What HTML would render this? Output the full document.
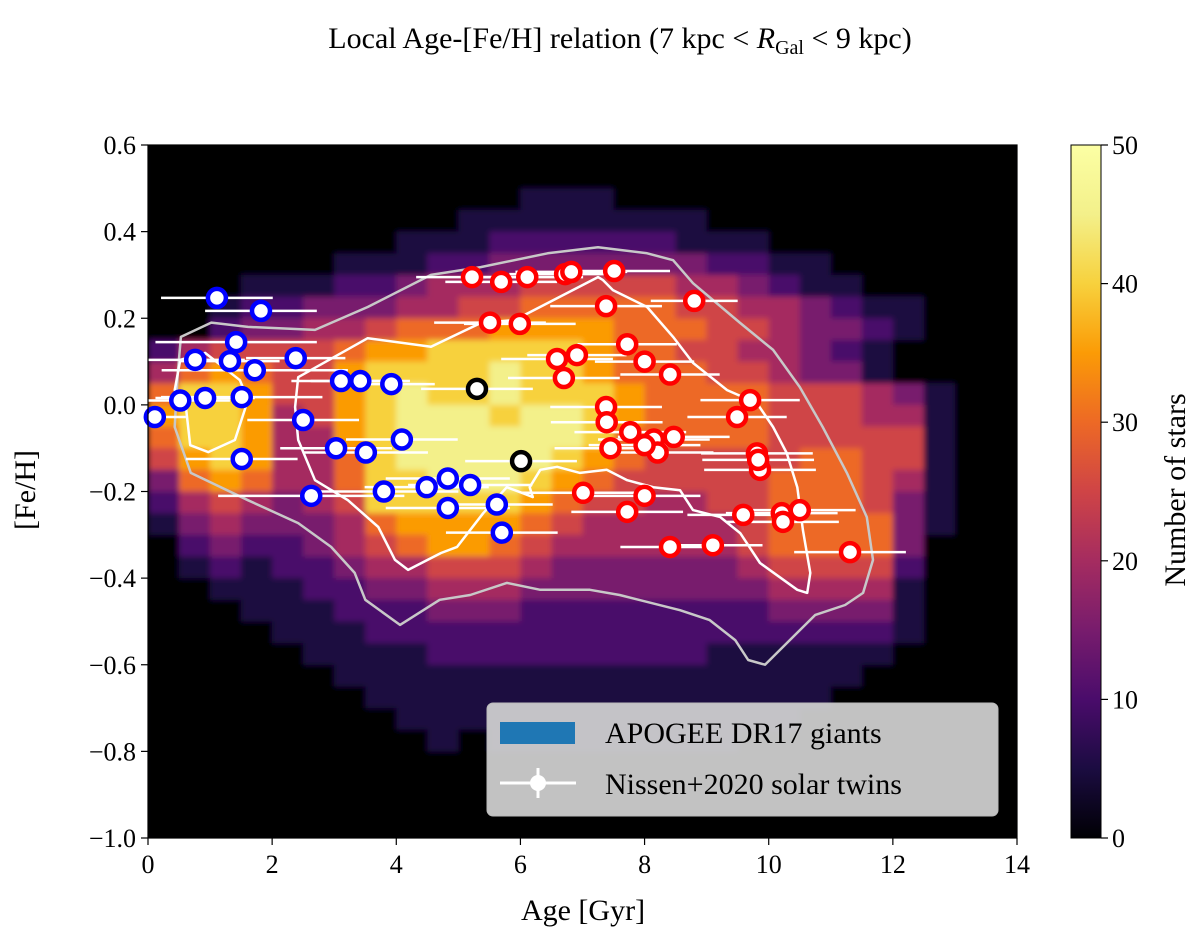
<!DOCTYPE html>
<html><head><meta charset="utf-8"><style>
html,body{margin:0;padding:0;background:#fff;}
svg{display:block;font-family:"Liberation Serif","DejaVu Serif",serif;}
</style></head><body>
<svg id="chart" width="1200" height="940" viewBox="0 0 1200 940">
<defs>
<clipPath id="plotclip"><rect x="148" y="145" width="869" height="693"/></clipPath>
<filter id="soft" x="0" y="0" width="1" height="1"><feGaussianBlur stdDeviation="3" edgeMode="duplicate"/></filter>
<linearGradient id="cbgrad" x1="0" y1="1" x2="0" y2="0">
<stop offset="0" stop-color="#000004"/><stop offset="0.1" stop-color="#1b0c41"/><stop offset="0.2" stop-color="#4a0c6b"/><stop offset="0.3" stop-color="#781c6d"/><stop offset="0.4" stop-color="#a52c60"/><stop offset="0.5" stop-color="#cf4446"/><stop offset="0.6" stop-color="#ed6925"/><stop offset="0.7" stop-color="#fb9b06"/><stop offset="0.8" stop-color="#f7d13d"/><stop offset="0.9" stop-color="#f3f08a"/><stop offset="1" stop-color="#fcffa4"/>
</linearGradient>
</defs>
<text x="620" y="48" text-anchor="middle" font-size="30">Local Age-[Fe/H] relation (7 kpc &lt; <tspan font-style="italic">R</tspan><tspan font-size="20" dy="6">Gal</tspan><tspan dy="-6"> &lt; 9 kpc)</tspan></text>
<rect x="148" y="145" width="869" height="693" fill="#000004"/>
<g clip-path="url(#plotclip)"><g id="heat" filter="url(#soft)"></g></g>
<g id="contours" clip-path="url(#plotclip)"></g>
<g id="points"></g>
<rect x="148" y="145" width="869" height="693" fill="none" stroke="#000" stroke-width="1.2"/>
<g id="xaxis"></g>
<g id="yaxis"></g>
<text x="583" y="920" text-anchor="middle" font-size="30">Age [Gyr]</text>
<text transform="translate(35,490) rotate(-90)" text-anchor="middle" font-size="30">[Fe/H]</text>
<g>
<rect x="487" y="703" width="511" height="113" rx="6" fill="#d2d2d2" fill-opacity="0.92" stroke="#bbb"/>
<rect x="500" y="722" width="75" height="22" fill="#1f77b4"/>
<text x="605" y="743" font-size="30">APOGEE DR17 giants</text>
<g>
<line x1="500" y1="783" x2="576" y2="783" stroke="#fff" stroke-width="3"/>
<line x1="538" y1="768" x2="538" y2="798" stroke="#fff" stroke-width="3"/>
<circle cx="538" cy="783" r="8" fill="#fff"/>
</g>
<text x="605" y="794" font-size="30">Nissen+2020 solar twins</text>
</g>
<rect x="1071" y="145" width="30" height="693" fill="url(#cbgrad)" stroke="#000" stroke-width="1"/>
<g id="cbaxis"></g>
<text transform="translate(1185,490) rotate(-90)" text-anchor="middle" font-size="30">Number of stars</text>
</svg>
<script>
// ---- data ----
const ageEdgesStep = 0.5;
const fehStep = 0.05;
const histRows = [
"0000000000000000000000000000",
"0000000000000000000000000000",
"0000000000001110000000000000",
"0000000000111111110000000000",
"0000000011122222211100000000",
"0000001112233333332211000000",
"0001112234445555544321100000",
"0012233344556666655443211000",
"0023344566677776665543321000",
"2455556778888876655443210000",
"4676557888898876665543310000",
"6887557898898887666655543100",
"7887457899989987666655544100",
"6887447899999986666655555100",
"5787446899999876555556655100",
"3676446889998765555566654100",
"2454345888887655445566653100",
"1343334677776544444566663100",
"0232234567765444444566663000",
"0121223445554333333455552000",
"0011122334443333333344441000",
"0001112223332222222233331000",
"0000111222222222222222221000",
"0000011112222222221111110000",
"0000001111111111111111100000",
"0000000111111111111111000000",
"0000000011111111111110000000",
"0000000001011111111000000000",
"0000000000000000000000000000",
"0000000000000000000000000000",
"0000000000000000000000000000",
"0000000000000000000000000000"];
const countPerDigit = 5.0;
const blueAge = [1.11,1.82,1.42,0.76,1.32,2.38,1.72,3.11,3.42,3.92,0.52,0.92,1.51,0.11,2.5,1.51,3.03,3.51,4.09,2.63,3.80,4.49,4.83,5.19,4.83,5.62,5.70];
const blueFeh = [0.247,0.217,0.145,0.104,0.101,0.108,0.08,0.055,0.055,0.048,0.01,0.016,0.018,-0.028,-0.035,-0.125,-0.10,-0.11,-0.08,-0.21,-0.20,-0.19,-0.17,-0.185,-0.238,-0.23,-0.295];
const blueErr = [0.9,0.9,1.3,0.8,0.8,0.8,1.5,0.8,0.8,0.7,0.8,0.8,1.3,0.5,0.9,0.9,0.9,1.0,0.9,1.5,1.2,1.0,1.0,1.0,1.0,0.9,0.9];
const blackAge = [5.30,6.01];
const blackFeh = [0.037,-0.13];
const blackErr = [0.9,0.9];
const redAge = [5.22,5.69,6.11,6.72,6.82,7.51,7.38,8.80,5.51,5.99,6.59,6.91,6.70,7.72,8.0,8.41,7.38,7.39,7.77,7.45,8.15,8.21,8.47,8.0,9.70,9.49,9.81,9.86,9.83,7.01,8.0,7.72,9.59,10.21,10.23,10.5,8.41,9.1,11.31];
const redFeh = [0.295,0.284,0.295,0.302,0.307,0.309,0.228,0.24,0.19,0.187,0.106,0.115,0.062,0.14,0.10,0.07,-0.005,-0.04,-0.063,-0.10,-0.08,-0.11,-0.074,-0.093,0.011,-0.028,-0.112,-0.15,-0.127,-0.203,-0.21,-0.247,-0.254,-0.25,-0.27,-0.243,-0.328,-0.324,-0.34];
const redErr = [0.9,0.9,0.9,0.9,0.9,0.9,0.9,0.7,0.9,0.9,0.9,0.8,0.9,0.8,0.8,0.8,0.9,0.9,0.9,0.9,0.9,0.9,0.9,0.9,0.8,0.8,0.9,0.9,0.9,1.0,0.9,0.9,0.9,0.9,0.9,0.9,0.8,0.8,0.9];
const xTicks = [0,2,4,6,8,10,12,14];
const yTicks = [0.6,0.4,0.2,0.0,-0.2,-0.4,-0.6,-0.8,-1.0];
const cbTicks = [0,10,20,30,40,50];
const outerContour = [[0.53,0.157],[1.02,0.19],[1.61,0.18],[2.69,0.173],[3.54,0.226],[4.56,0.30],[5.36,0.318],[6.44,0.35],[7.25,0.364],[8.04,0.35],[8.46,0.334],[8.78,0.281],[9.54,0.189],[10.07,0.127],[10.5,0.041],[10.87,-0.051],[11.26,-0.157],[11.58,-0.259],[11.68,-0.358],[11.52,-0.434],[11.23,-0.462],[10.75,-0.485],[10.34,-0.543],[9.94,-0.60],[9.67,-0.589],[9.46,-0.543],[9.05,-0.497],[8.57,-0.474],[7.6,-0.439],[7.12,-0.427],[6.32,-0.427],[5.78,-0.411],[5.19,-0.439],[4.7,-0.45],[4.06,-0.508],[3.5,-0.45],[3.33,-0.388],[2.95,-0.328],[2.42,-0.273],[1.61,-0.22],[0.69,-0.157],[0.43,-0.051],[0.48,0.074]];
const innerMain = [[2.42,0.064],[3.54,0.154],[4.56,0.134],[5.36,0.189],[5.91,0.196],[7.25,0.295],[7.33,0.288],[7.49,0.265],[8.04,0.226],[8.46,0.157],[8.78,0.097],[9.33,0.034],[9.81,0.004],[10.07,-0.051],[10.29,-0.111],[10.46,-0.19],[10.55,-0.289],[10.67,-0.388],[10.62,-0.434],[10.46,-0.427],[9.86,-0.365],[9.54,-0.296],[9.22,-0.259],[8.78,-0.243],[8.57,-0.197],[8.14,-0.19],[7.72,-0.174],[7.39,-0.15],[6.96,-0.157],[6.59,-0.143],[6.32,-0.15],[6.15,-0.19],[6.2,-0.213],[6.04,-0.204],[5.78,-0.19],[5.4,-0.25],[4.98,-0.328],[4.72,-0.342],[4.19,-0.381],[3.98,-0.358],[3.71,-0.282],[3.22,-0.22],[2.69,-0.174],[2.42,-0.081],[2.37,-0.005]];
const innerLeft = [[0.52,0.104],[0.92,0.12],[1.48,0.057],[1.61,0.011],[1.40,-0.081],[0.97,-0.109],[0.68,-0.093],[0.61,-0.005],[0.43,0.034]];

// ---- scales ----
const X0=148,X1=1017,Y0=145,Y1=838;
const xs = a => X0 + (a-0)/(14-0)*(X1-X0);
const ys = f => Y0 + (0.6-f)/(0.6-(-1.0))*(Y1-Y0);
const cs = v => Y1 - v/50*(Y1-Y0);
const NS='http://www.w3.org/2000/svg';
function mk(tag, attrs, parent){const e=document.createElementNS(NS,tag);for(const k in attrs)e.setAttribute(k,attrs[k]);parent.appendChild(e);return e;}
const inferno=[[0,0,0,4],[0.1,27,12,65],[0.2,74,12,107],[0.3,120,28,109],[0.4,165,44,96],[0.5,207,68,70],[0.6,237,105,37],[0.7,251,155,6],[0.8,247,209,61],[0.9,243,240,138],[1,252,255,164]];
function cmap(t){t=Math.max(0,Math.min(1,t));for(let i=1;i<inferno.length;i++){if(t<=inferno[i][0]){const a=inferno[i-1],b=inferno[i],u=(t-a[0])/(b[0]-a[0]);return `rgb(${Math.round(a[1]+u*(b[1]-a[1]))},${Math.round(a[2]+u*(b[2]-a[2]))},${Math.round(a[3]+u*(b[3]-a[3]))})`;}}return 'rgb(252,255,164)';}

const heat=document.getElementById('heat');
histRows.forEach((row,r)=>{
  for(let c=0;c<row.length;c++){
    const v=parseInt(row[c])*countPerDigit;
    const a0=c*ageEdgesStep, f0=0.6-r*fehStep;
    const x=xs(a0), y=ys(f0);
    const cell=mk('rect',{x:x.toFixed(1),y:y.toFixed(1),width:(xs(a0+ageEdgesStep)-x+0.6).toFixed(1),height:(ys(f0-fehStep)-y+0.6).toFixed(1),fill:cmap(v/50)},heat);
    
    
  }
});
const cg=document.getElementById('contours');
function poly(pts,color,name){const d='M'+pts.map(p=>xs(p[0]).toFixed(1)+','+ys(p[1]).toFixed(1)).join('L')+'Z';const p=mk('path',{d:d,fill:'none',stroke:color,'stroke-width':2.5,'stroke-linejoin':'round'},cg);

}
poly(outerContour,'#c8c8c8','outer-contour');
poly(innerMain,'#ffffff','inner-contour-main');
poly(innerLeft,'#ffffff','inner-contour-young');
const pg=document.getElementById('points');
function series(ages,fehs,errs,edge,name){
  const g=mk('g',{},pg);
  
  
  ages.forEach((a,i)=>{
    const l=mk('line',{x1:xs(a-errs[i]),x2:xs(a+errs[i]),y1:ys(fehs[i]),y2:ys(fehs[i]),stroke:'#fff','stroke-width':2.5},g);
    
    
  });
  ages.forEach((a,i)=>{
    const c=mk('circle',{cx:xs(a),cy:ys(fehs[i]),r:9,fill:'#fff',stroke:edge,'stroke-width':4.5},g);
    
    
  });
}
series(blueAge,blueFeh,blueErr,'#0000ff','young-twins');
series(redAge,redFeh,redErr,'#ff0000','old-twins');
series(blackAge,blackFeh,blackErr,'#000000','intermediate-twins');
const xa=document.getElementById('xaxis');
xTicks.forEach(t=>{
  const l=mk('line',{x1:xs(t),x2:xs(t),y1:Y1,y2:Y1+7,stroke:'#000','stroke-width':1.2},xa);
  
  
  const tx=mk('text',{x:xs(t),y:Y1+35,'text-anchor':'middle','font-size':26},xa);
  tx.textContent=String(t);
  
  
});
const ya=document.getElementById('yaxis');
yTicks.forEach(t=>{
  const l=mk('line',{x1:X0-7,x2:X0,y1:ys(t),y2:ys(t),stroke:'#000','stroke-width':1.2},ya);
  
  
  const tx=mk('text',{x:X0-12,y:ys(t)+9,'text-anchor':'end','font-size':26},ya);
  tx.textContent=(t<0?'\u2212':'')+Math.abs(t).toFixed(1);
  
  
});
const cb=document.getElementById('cbaxis');
cbTicks.forEach(t=>{
  const l=mk('line',{x1:1101,x2:1108,y1:cs(t),y2:cs(t),stroke:'#000','stroke-width':1.2},cb);
  
  
  const tx=mk('text',{x:1112,y:cs(t)+9,'font-size':26},cb);
  tx.textContent=String(t);
  
  
});
</script>
</body></html>
